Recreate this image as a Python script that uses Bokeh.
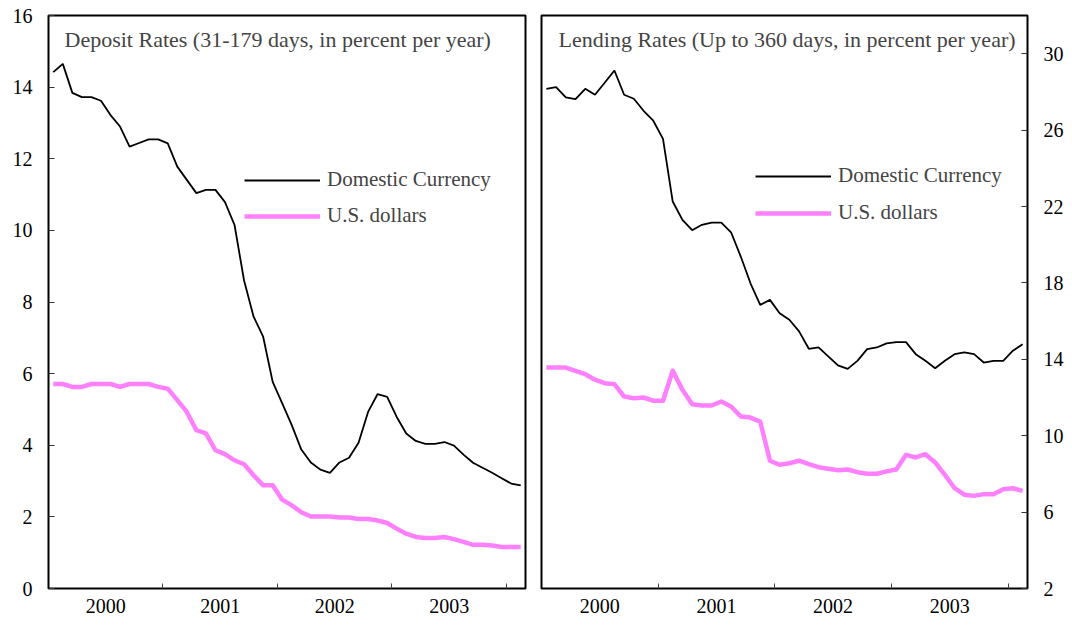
from bokeh.plotting import figure
from bokeh.layouts import row
from bokeh.models import Range1d, FixedTicker, Legend, LegendItem, Label
from bokeh.embed import file_html
from bokeh.resources import INLINE

# ---- data (monthly, Jan 2000 - Feb 2004) ----
year_labels = ["2000", "2001", "2002", "2003"]
month_index = list(range(50))

deposit_domestic = [14.42, 14.65, 13.84, 13.72, 13.72, 13.62, 13.22, 12.90, 12.34, 12.44,
                    12.54, 12.54, 12.43, 11.78, 11.41, 11.04, 11.13, 11.13, 10.79, 10.15,
                    8.60, 7.59, 7.03, 5.77, 5.17, 4.56, 3.88, 3.52, 3.32, 3.23,
                    3.52, 3.65, 4.07, 4.93, 5.43, 5.35, 4.79, 4.33, 4.12, 4.04,
                    4.04, 4.09, 3.99, 3.74, 3.51, 3.37, 3.23, 3.08, 2.93, 2.88]
deposit_usd = [5.71, 5.71, 5.63, 5.63, 5.71, 5.71, 5.71, 5.63, 5.71, 5.71,
               5.71, 5.63, 5.58, 5.26, 4.93, 4.42, 4.33, 3.86, 3.75, 3.58,
               3.47, 3.16, 2.88, 2.88, 2.48, 2.32, 2.13, 2.01, 2.01, 2.01,
               1.98, 1.98, 1.94, 1.94, 1.90, 1.83, 1.67, 1.53, 1.44, 1.41,
               1.41, 1.44, 1.38, 1.30, 1.22, 1.22, 1.20, 1.16, 1.16, 1.16]
lending_domestic = [28.16, 28.25, 27.71, 27.62, 28.16, 27.85, 28.48, 29.12, 27.85, 27.64,
                    27.01, 26.49, 25.54, 22.26, 21.30, 20.76, 21.04, 21.16, 21.16, 20.65,
                    19.38, 17.98, 16.85, 17.11, 16.41, 16.07, 15.46, 14.55, 14.62, 14.15,
                    13.68, 13.50, 13.92, 14.53, 14.62, 14.83, 14.90, 14.90, 14.27, 13.92,
                    13.53, 13.92, 14.27, 14.36, 14.27, 13.83, 13.92, 13.92, 14.45, 14.79]
lending_usd = [13.57, 13.57, 13.57, 13.40, 13.22, 12.93, 12.75, 12.70, 12.05, 11.96,
               12.00, 11.83, 11.83, 13.40, 12.40, 11.65, 11.58, 11.58, 11.79, 11.53,
               11.01, 10.95, 10.74, 8.69, 8.48, 8.56, 8.69, 8.51, 8.35, 8.27,
               8.19, 8.23, 8.09, 8.01, 8.01, 8.13, 8.23, 9.00, 8.86, 9.03,
               8.60, 7.95, 7.25, 6.91, 6.85, 6.94, 6.94, 7.20, 7.25, 7.11]

series_names = ["Domestic Currency", "U.S. dollars"]
left_title = "Deposit Rates (31-179 days, in percent per year)"
right_title = "Lending Rates (Up to 360 days, in percent per year)"

FONT = "Liberation Serif"
BLACK = "#000000"
PINK = "#FF80FF"

year_mid = [5.5, 17.5, 29.5, 41.5]
year_bounds = [11.5, 23.5, 35.5, 47.5]


def style(p, yticks):
    p.outline_line_color = "black"
    p.outline_line_width = 2
    p.xgrid.visible = False
    p.ygrid.visible = False
    p.background_fill_color = "white"
    p.border_fill_color = "white"
    xa = p.xaxis[0]
    xa.ticker = FixedTicker(ticks=year_mid, minor_ticks=year_bounds)
    xa.major_label_overrides = {t: l for t, l in zip(year_mid, year_labels)}
    xa.major_tick_in = 0
    xa.major_tick_out = 0
    xa.minor_tick_in = 5
    xa.minor_tick_out = 0
    xa.minor_tick_line_color = "#444444"
    xa.axis_line_color = None
    xa.major_label_standoff = 10
    ya = p.yaxis[0]
    ya.ticker = FixedTicker(ticks=yticks, minor_ticks=[])
    ya.major_tick_in = 6
    ya.major_tick_out = 0
    ya.major_tick_line_color = "#333333"
    ya.minor_tick_line_color = None
    ya.axis_line_color = None
    ya.major_label_standoff = 16
    for ax in (xa, ya):
        ax.major_label_text_font = FONT
        ax.major_label_text_font_size = "20px"
        ax.major_label_text_color = "black"


# ---- left: deposit rates ----
p1 = figure(frame_width=477, frame_height=573, output_backend="svg",
            toolbar_location=None, x_range=Range1d(-0.5, 49.5),
            y_range=Range1d(0, 16), min_border_left=48, min_border_right=4,
            min_border_top=15, min_border_bottom=35)
style(p1, list(range(0, 17, 2)))
r1a = p1.line(month_index, deposit_domestic, line_color=BLACK, line_width=1.8)
r1b = p1.line(month_index, deposit_usd, line_color=PINK, line_width=4.5, line_join="round")
p1.add_layout(Label(x=1.18, y=15.32, text=left_title, text_font=FONT,
                    text_font_size="22px", text_align="left",
                    text_baseline="alphabetic"))
leg1 = Legend(items=[LegendItem(label=series_names[0], renderers=[r1a]),
                     LegendItem(label=series_names[1], renderers=[r1b])],
              location=(196, 360), padding=0, margin=0, border_line_color=None,
              background_fill_alpha=0, glyph_width=76, glyph_height=24,
              label_height=24, spacing=11, label_standoff=7,
              label_text_font=FONT, label_text_font_size="21px")
p1.add_layout(leg1)

# ---- right: lending rates ----
p2 = figure(frame_width=486, frame_height=573, output_backend="svg",
            toolbar_location=None, x_range=Range1d(-0.5, 49.5),
            y_range=Range1d(2, 32), y_axis_location="right",
            min_border_left=12, min_border_right=40,
            min_border_top=15, min_border_bottom=35)
style(p2, list(range(2, 31, 4)))
r2a = p2.line(month_index, lending_domestic, line_color=BLACK, line_width=1.8)
r2b = p2.line(month_index, lending_usd, line_color=PINK, line_width=4.5, line_join="round")
p2.add_layout(Label(x=48.27, y=30.73, text=right_title, text_font=FONT,
                    text_font_size="22px", text_align="right",
                    text_baseline="alphabetic"))
leg2 = Legend(items=[LegendItem(label=series_names[0], renderers=[r2a]),
                     LegendItem(label=series_names[1], renderers=[r2b])],
              location=(214, 363), padding=0, margin=0, border_line_color=None,
              background_fill_alpha=0, glyph_width=76, glyph_height=24,
              label_height=24, spacing=12, label_standoff=7,
              label_text_font=FONT, label_text_font_size="21px")
p2.add_layout(leg2)

layout = row(p1, p2)
open("out.html", "w").write(file_html(layout, INLINE))
